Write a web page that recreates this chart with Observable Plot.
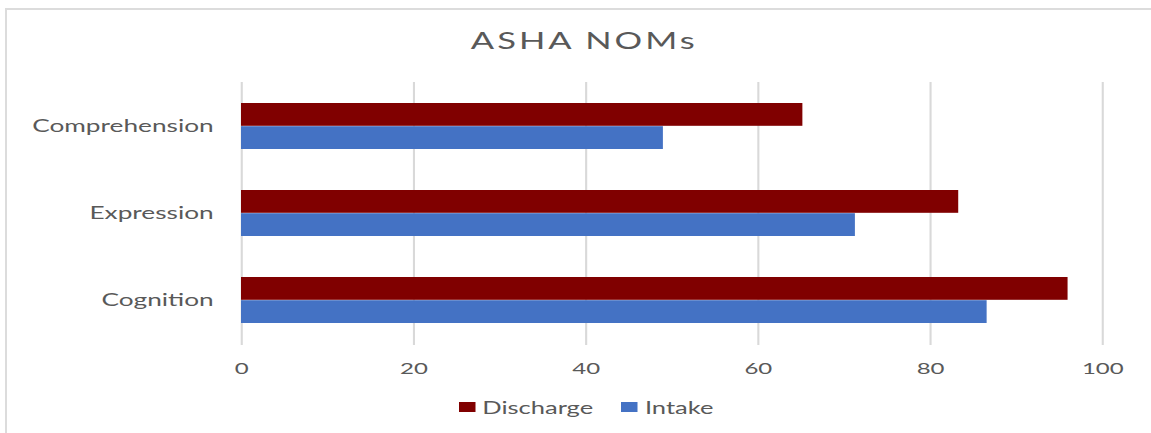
<!DOCTYPE html>
<html>
<head>
<meta charset="utf-8">
<script src="https://cdn.jsdelivr.net/npm/d3@7"></script>
<script src="https://cdn.jsdelivr.net/npm/@observablehq/plot@0.6"></script>
<style>
  html, body { margin: 0; padding: 0; background: #fff; overflow: hidden; }
  body { width: 1151px; height: 433px; position: relative; font-family: Lato, "Open Sans", sans-serif; color: #595959; }
  #frame { position: absolute; left: 5px; top: 8px; width: 1300px; height: 600px; border-left: 2.5px solid #dcdcdc; border-top: 2px solid #dcdcdc; box-sizing: border-box; }
  #wrap { position: absolute; left: 0; top: 0; width: 767px; height: 433px; transform: scaleX(1.5); transform-origin: 0 0; }
  #title { position: absolute; left: 389.5px; top: 29px; transform: translateX(-50%); font-size: 23px; line-height: 23px; letter-spacing: 2px; white-space: nowrap; color: #595959; }
  #chart { position: absolute; left: 0; top: 0; }
  #chart svg [aria-label^="y-axis"] text { font-size: 17.5px; }
  #legend { position: absolute; left: 306px; top: 397px; height: 20px; display: flex; align-items: center; font-size: 17px; color: #595959; white-space: nowrap; }
  .sw { width: 10.5px; height: 9.5px; display: inline-block; margin-right: 5px; }
  .item { display: flex; align-items: center; margin-right: 19px; }
</style>
</head>
<body>
<div id="frame"></div>
<div id="wrap">
  <div id="chart"></div>
  <div id="title"></div>
  <div id="legend"></div>
</div>
<script>
const title = "ASHA NOMs";
const categories = ["Comprehension", "Expression", "Cognition"];
const series = ["Discharge", "Intake"];
const discharge = [65.2, 83.3, 96.0];
const intake = [49.0, 71.3, 86.6];
const colors = ["#800000", "#4472C4"];
const xTicks = [0, 20, 40, 60, 80, 100];

const rows = categories.map((c, i) => ({category: c, Discharge: discharge[i], Intake: intake[i]}));

document.getElementById("title").textContent = title;

const plot = Plot.plot({
  width: 767,
  height: 433,
  marginLeft: 160.67,
  marginRight: 32.33,
  marginTop: 82,
  marginBottom: 88,
  style: {fontFamily: "Lato, 'Open Sans', sans-serif", fontSize: "16px", color: "#595959", background: "transparent", overflow: "visible"},
  x: {domain: [0, 100], ticks: xTicks, tickSize: 0, tickPadding: 17, label: null},
  y: {domain: categories, paddingInner: 0.471, paddingOuter: 0.2356, tickSize: 0, tickPadding: 18.67, label: null},
  color: {domain: series, range: colors},
  marks: [
    Plot.ruleX(xTicks, {stroke: "#d9d9d9", strokeWidth: 1.4}),
    Plot.barX(rows, {y: "category", x: "Discharge", fill: () => series[0], insetBottom: 23.2}),
    Plot.barX(rows, {y: "category", x: "Intake", fill: () => series[1], insetTop: 23.2})
  ]
});
document.getElementById("chart").appendChild(plot);

const legend = document.getElementById("legend");
series.forEach((s, i) => {
  const item = document.createElement("div");
  item.className = "item";
  const sw = document.createElement("span");
  sw.className = "sw";
  sw.style.background = colors[i];
  const t = document.createElement("span");
  t.textContent = s;
  item.appendChild(sw);
  item.appendChild(t);
  legend.appendChild(item);
});
</script>
</body>
</html>
